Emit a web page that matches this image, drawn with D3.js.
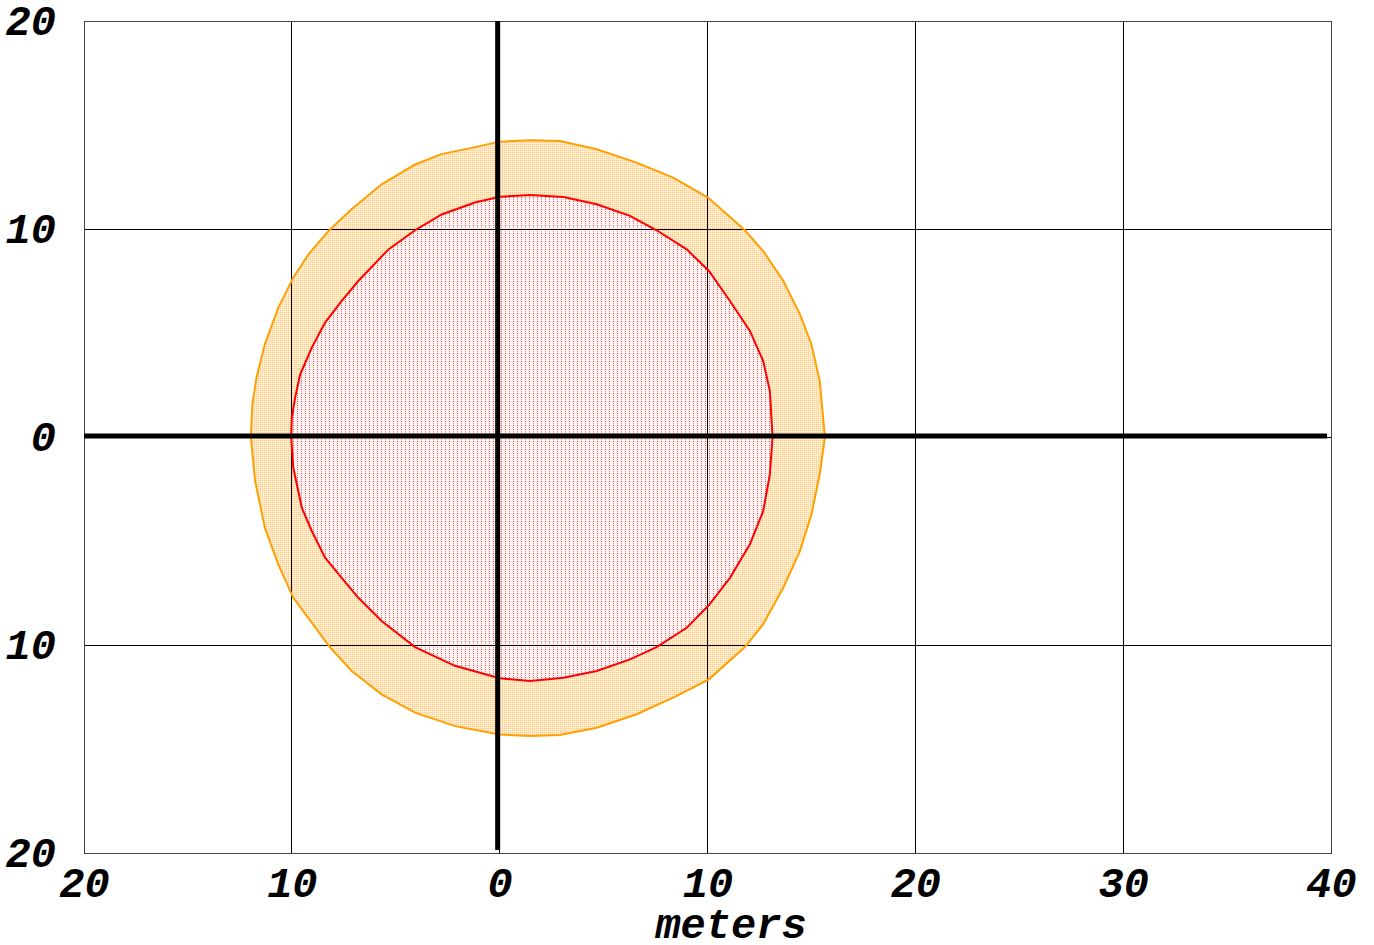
<!DOCTYPE html>
<html>
<head>
<meta charset="utf-8">
<script src="https://cdn.jsdelivr.net/npm/d3@7"></script>
<style>
  html, body { margin: 0; padding: 0; background: #fff; }
  svg { display: block; }
</style>
</head>
<body>
<svg id="chart" width="1374" height="945"></svg>
<script>
// ---- data ----
const xTicks = [-20, -10, 0, 10, 20, 30, 40];
const yTicks = [-20, -10, 0, 10, 20];
const xTitle = "meters";

// outer (orange) contour, meters
const outerX = [15.65, 15.4, 15.0, 14.45, 13.65, 12.68, 11.8, 10.04, 8.35, 6.59, 4.67, 2.9, 1.46, 0.0, -1.35, -2.8, -4.07, -5.68, -7.12, -8.2, -9.2, -9.93, -10.65, -11.3, -11.7, -11.9, -11.97, -11.77, -11.3, -10.65, -9.93, -8.17, -7.12, -5.68, -4.07, -2.15, 0.0, 1.46, 2.9, 4.67, 6.59, 8.35, 10.07, 11.8, 12.68, 13.65, 14.45, 15.0, 15.4];
const outerY = [0, 2.7, 4.46, 5.9, 7.5, 8.94, 9.94, 11.5, 12.47, 13.19, 13.83, 14.23, 14.27, 14.2, 13.9, 13.6, 13.1, 12.15, 10.95, 9.94, 8.78, 7.66, 6.22, 4.46, 2.85, 1.57, 0, -2.1, -4.36, -6.12, -7.73, -10.1, -11.25, -12.37, -13.25, -13.9, -14.3, -14.38, -14.33, -13.98, -13.33, -12.53, -11.65, -10.1, -9.0, -7.24, -5.48, -3.72, -1.8];

// inner (red) contour, meters
const innerX = [13.13, 13.0, 12.68, 12.04, 11.08, 10.07, 9.0, 7.55, 6.27, 4.67, 3.07, 1.46, 0.0, -1.19, -2.79, -4.07, -5.35, -6.8, -7.6, -8.4, -9.04, -9.6, -9.84, -10.0, -10.03, -9.93, -9.52, -9.04, -8.4, -7.6, -6.8, -5.68, -4.07, -2.15, 0.0, 1.46, 3.07, 4.67, 6.27, 7.55, 9.0, 10.07, 11.08, 12.04, 12.68, 13.0];
const innerY = [0, 2.21, 3.65, 5.1, 6.54, 7.98, 9.02, 9.94, 10.63, 11.19, 11.54, 11.63, 11.55, 11.27, 10.7, 9.94, 9.02, 7.5, 6.54, 5.5, 4.3, 3.0, 1.9, 0.93, 0, -1.47, -3.4, -4.52, -5.8, -6.77, -7.73, -8.85, -10.1, -11.0, -11.6, -11.73, -11.57, -11.25, -10.69, -10.1, -9.17, -8.08, -6.77, -5.16, -3.56, -1.8];

// ---- layout ----
const L = 84, R = 1331, T = 21, B = 853;
const FONT = "'Liberation Mono', 'Courier New', monospace";
const FS = 42;

const svg = d3.select("#chart");
const x = d3.scaleLinear().domain([-20, 40]).range([L, R]);
const y = d3.scaleLinear().domain([-20, 20]).range([B, T]);

// patterns
const defs = svg.append("defs");
const po = defs.append("pattern").attr("id", "pOrange")
  .attr("patternUnits", "userSpaceOnUse").attr("width", 2).attr("height", 2);
po.append("rect").attr("width", 2).attr("height", 2).attr("fill", "#fff6ea").attr("shape-rendering", "crispEdges");
po.append("rect").attr("x", 0).attr("y", 0).attr("width", 1).attr("height", 1).attr("fill", "#ffcf88").attr("shape-rendering", "crispEdges");
po.append("rect").attr("x", 1).attr("y", 0).attr("width", 1).attr("height", 1).attr("fill", "#ffe3ba").attr("shape-rendering", "crispEdges");
po.append("rect").attr("x", 0).attr("y", 1).attr("width", 1).attr("height", 1).attr("fill", "#ffe3ba").attr("shape-rendering", "crispEdges");

const pr = defs.append("pattern").attr("id", "pRed")
  .attr("patternUnits", "userSpaceOnUse").attr("width", 4).attr("height", 4);
pr.append("rect").attr("width", 4).attr("height", 4).attr("fill", "#fff4f4").attr("shape-rendering", "crispEdges");
pr.append("rect").attr("x", 1).attr("y", 1).attr("width", 1).attr("height", 1).attr("fill", "#ff3030").attr("shape-rendering", "crispEdges");
pr.append("rect").attr("x", 1).attr("y", 3).attr("width", 1).attr("height", 1).attr("fill", "#ff8a8a").attr("shape-rendering", "crispEdges");

const line = d3.line().x(d => x(d[0])).y(d => y(d[1])).curve(d3.curveLinearClosed);
const outer = outerX.map((v, i) => [v, outerY[i]]);
const inner = innerX.map((v, i) => [v, innerY[i]]);

// fills
svg.append("path").attr("d", line(outer)).attr("fill", "url(#pOrange)").attr("stroke", "none");
svg.append("path").attr("d", line(inner)).attr("fill", "url(#pRed)").attr("stroke", "none");

// grid
const grid = svg.append("g");
grid.selectAll("line.v").data(xTicks.filter(d => d > -20 && d < 40)).join("line")
  .attr("x1", d => x(d)).attr("x2", d => x(d)).attr("y1", T).attr("y2", B)
  .attr("stroke", "#000").attr("stroke-width", 1).attr("shape-rendering", "crispEdges");
grid.selectAll("line.h").data(yTicks.filter(d => d > -20 && d < 20)).join("line")
  .attr("x1", L).attr("x2", R).attr("y1", d => y(d)).attr("y2", d => y(d))
  .attr("stroke", "#000").attr("stroke-width", 1).attr("shape-rendering", "crispEdges");
svg.append("rect").attr("x", L).attr("y", T).attr("width", R - L).attr("height", B - T)
  .attr("fill", "none").attr("stroke", "#444").attr("stroke-width", 1).attr("shape-rendering", "crispEdges");

// contour strokes
svg.append("path").attr("d", line(outer)).attr("fill", "none").attr("stroke", "#ff9f00").attr("stroke-width", 2);
svg.append("path").attr("d", line(inner)).attr("fill", "none").attr("stroke", "#ff0000").attr("stroke-width", 2);

// thick zero axes
svg.append("line").attr("x1", x(-20)).attr("x2", x(40) - 4).attr("y1", y(0) - 1).attr("y2", y(0) - 1)
  .attr("stroke", "#000").attr("stroke-width", 5);
svg.append("line").attr("x1", x(0) - 2).attr("x2", x(0) - 2).attr("y1", y(20)).attr("y2", y(-20) - 3)
  .attr("stroke", "#000").attr("stroke-width", 5);

// axes
const fmt = d => String(Math.abs(d));
const gx = svg.append("g").attr("transform", `translate(0,${B})`)
  .call(d3.axisBottom(x).tickValues(xTicks).tickSize(0).tickFormat(fmt));
gx.select(".domain").remove();
gx.selectAll("text").attr("y", 44).attr("dy", 0)
  .attr("font-family", FONT).attr("font-weight", "bold").attr("font-style", "italic")
  .attr("font-size", FS).attr("fill", "#000");

const gy = svg.append("g").attr("transform", `translate(${L},0)`)
  .call(d3.axisLeft(y).tickValues(yTicks).tickSize(0).tickFormat(fmt));
gy.select(".domain").remove();
gy.selectAll("text").attr("x", -28).attr("dy", "0.32em")
  .attr("font-family", FONT).attr("font-weight", "bold").attr("font-style", "italic")
  .attr("font-size", FS).attr("fill", "#000");

svg.append("text").attr("x", 731).attr("y", 938).attr("text-anchor", "middle")
  .attr("font-family", FONT).attr("font-weight", "bold").attr("font-style", "italic")
  .attr("font-size", FS).attr("fill", "#000").text(xTitle);
</script>
</body>
</html>
